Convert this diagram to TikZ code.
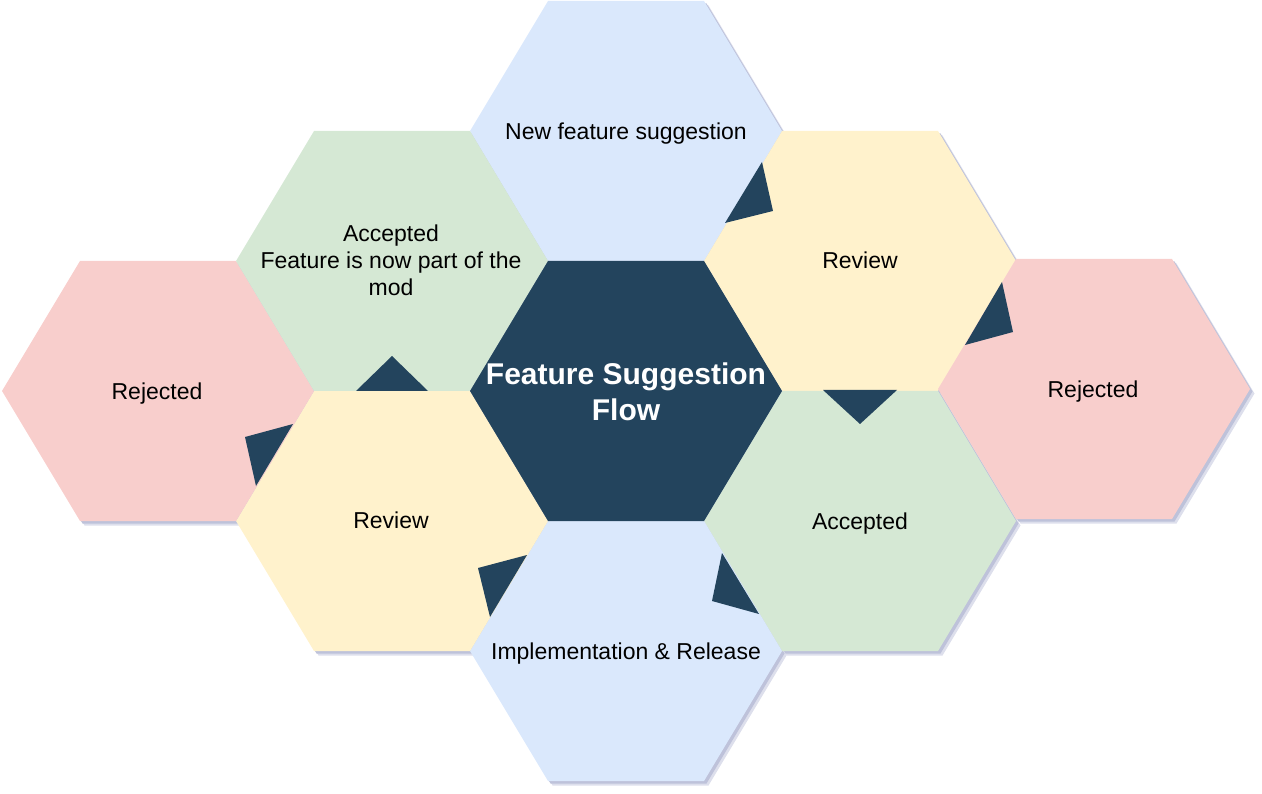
\documentclass[tikz,border=0pt]{standalone}
\usepackage{fontspec}
\setmainfont{Liberation Sans}
\definecolor{navy}{HTML}{23445D}
\definecolor{hblue}{HTML}{DAE8FC}
\definecolor{hyellow}{HTML}{FFF2CC}
\definecolor{hgreen}{HTML}{D5E8D4}
\definecolor{hred}{HTML}{F8CECC}
\definecolor{shadowA}{HTML}{BEC2DA}
\definecolor{shadowB}{HTML}{DDDFEC}
\begin{document}
\begin{tikzpicture}[x=1pt,y=-1pt,
  lbl/.style={font=\fontsize{23}{27}\selectfont, align=center, text=black, inner sep=0pt},
  lbldown/.style={lbl, yshift=-2.5pt},
  titlelbl/.style={font=\fontsize{30}{36}\selectfont\bfseries, align=center, text=white, inner sep=0pt},
  arrowtri/.style={fill=navy}]
\useasboundingbox (0,0) rectangle (1262,794);
% shadows
\foreach \cx/\cy in {626/131, 860/261, 1094/389, 860/521, 626/651, 392/521, 158/391, 392/261, 626/391} {
  \fill[shadowB, shift={(\cx+4.5,\cy+4.5)}] (-156,0) -- (-78,-130) -- (78,-130) -- (156,0) -- (78,130) -- (-78,130) -- cycle;
  \fill[shadowA, shift={(\cx+2.5,\cy+2.5)}] (-156,0) -- (-78,-130) -- (78,-130) -- (156,0) -- (78,130) -- (-78,130) -- cycle;
}
% hexagons
\foreach \cx/\cy/\col in {626/131/hblue, 860/261/hyellow, 1094/389/hred, 860/521/hgreen, 626/651/hblue, 392/521/hyellow, 158/391/hred, 392/261/hgreen, 626/391/navy} {
  \fill[\col, shift={(\cx,\cy)}] (-156,0) -- (-78,-130) -- (78,-130) -- (156,0) -- (78,130) -- (-78,130) -- cycle;
}
% labels
\node[titlelbl] (center) at (626,392) {Feature Suggestion\\Flow};
\node[lbldown] (newsug) at (626,131) {New feature suggestion};
\node[lbl] (review1) at (860,260) {Review};
\node[lbldown] (reject1) at (1093,389) {Rejected};
\node[lbldown] (accept1) at (860,521) {Accepted};
\node[lbldown] (impl) at (626,651) {Implementation \& Release};
\node[lbl] (review2) at (391,520) {Review};
\node[lbldown] (reject2) at (157,391) {Rejected};
\node[lbl] (accept2) at (391,260) {Accepted\\Feature is now part of the\\mod};
% arrow triangles
\fill[arrowtri] (762,162) -- (725,223) -- (773,211) -- cycle;
\fill[arrowtri] (1002,282) -- (965,345) -- (1013,332) -- cycle;
\fill[arrowtri] (823,390) -- (897,390) -- (860,424) -- cycle;
\fill[arrowtri] (356,391) -- (428,391) -- (392,356) -- cycle;
\fill[arrowtri] (245,437) -- (293,424) -- (256,486) -- cycle;
\fill[arrowtri] (478,568) -- (527,555) -- (490,617) -- cycle;
\fill[arrowtri] (722,553) -- (712,601) -- (759,614) -- cycle;
\end{tikzpicture}
\end{document}
